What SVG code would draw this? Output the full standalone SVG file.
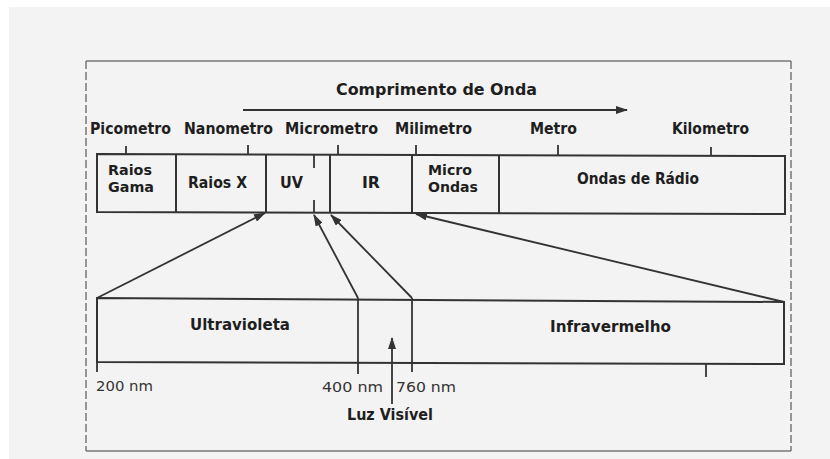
<svg xmlns="http://www.w3.org/2000/svg" width="830" height="459" viewBox="0 0 830 459">
<defs>
<marker id="ah" viewBox="0 0 12 8" refX="11" refY="4" markerWidth="12" markerHeight="8" markerUnits="userSpaceOnUse" orient="auto">
<path d="M0,0 L12,4 L0,8 Z" fill="#333"/>
</marker>
<style>
.b{font-family:"DejaVu Sans","Liberation Sans",sans-serif;font-weight:bold;font-size:15px;fill:#1e1e1e}
.b2{font-family:"DejaVu Sans","Liberation Sans",sans-serif;font-weight:bold;font-size:13.5px;fill:#1e1e1e}
.r{font-family:"DejaVu Sans","Liberation Sans",sans-serif;font-size:14.5px;fill:#333}
.box{fill:none;stroke:#333;stroke-width:2}
.ln{fill:none;stroke:#333;stroke-width:1.8}
.fr{fill:none;stroke:#777;stroke-width:1.5}
</style>
</defs>
<rect x="0" y="0" width="830" height="459" fill="#ffffff"/>
<rect x="9" y="7" width="821" height="452" fill="#f3f3f3"/>
<g id="frame">
<line class="fr" x1="86" y1="61" x2="791" y2="61"/>
<line class="fr" x1="86" y1="61" x2="86" y2="451" stroke-dasharray="8,3"/>
<line class="fr" x1="791" y1="61" x2="791" y2="451" stroke-dasharray="8,3" stroke="#aaa"/>
<line class="fr" x1="86" y1="451" x2="791" y2="451"/>
</g>
<g id="title">
<text class="b" x="336" y="95" font-size="16.5" textLength="201" lengthAdjust="spacingAndGlyphs">Comprimento de Onda</text>
</g>
<g id="scale-labels">
<text class="b" x="90" y="134" textLength="81" lengthAdjust="spacingAndGlyphs">Picometro</text>
<text class="b" x="184" y="134" textLength="89" lengthAdjust="spacingAndGlyphs">Nanometro</text>
<text class="b" x="285" y="134" textLength="93" lengthAdjust="spacingAndGlyphs">Micrometro</text>
<text class="b" x="395" y="134" textLength="77" lengthAdjust="spacingAndGlyphs">Milimetro</text>
<text class="b" x="530" y="134" textLength="47" lengthAdjust="spacingAndGlyphs">Metro</text>
<text class="b" x="672" y="134" textLength="77" lengthAdjust="spacingAndGlyphs">Kilometro</text>
</g>
<g id="spectrum-band">
<path class="box" d="M97,154 L785,156 L785,214 L97,212 Z"/>
</g>
<g id="raios-gama">
<line class="box" x1="176" y1="154" x2="176" y2="212"/>
<text class="b2" x="108" y="175" textLength="44" lengthAdjust="spacingAndGlyphs">Raios</text>
<text class="b2" x="108" y="192" textLength="46" lengthAdjust="spacingAndGlyphs">Gama</text>
</g>
<g id="raios-x">
<line class="box" x1="266" y1="154" x2="266" y2="213"/>
<text class="b" x="188" y="188" textLength="59" lengthAdjust="spacingAndGlyphs">Raios X</text>
</g>
<g id="uv">
<line class="box" x1="330" y1="155" x2="330" y2="213"/>
<line class="ln" x1="314" y1="155" x2="314" y2="168"/>
<line class="ln" x1="314" y1="200" x2="314" y2="212"/>
<text class="b" x="280" y="188" textLength="23" lengthAdjust="spacingAndGlyphs">UV</text>
</g>
<g id="ir">
<line class="box" x1="412" y1="155" x2="412" y2="213"/>
<text class="b" x="362" y="188" textLength="18" lengthAdjust="spacingAndGlyphs">IR</text>
</g>
<g id="micro-ondas">
<line class="box" x1="499" y1="155" x2="499" y2="213"/>
<text class="b2" x="428" y="175" textLength="44" lengthAdjust="spacingAndGlyphs">Micro</text>
<text class="b2" x="428" y="192" textLength="50" lengthAdjust="spacingAndGlyphs">Ondas</text>
</g>
<g id="ondas-radio">
<text class="b" x="577" y="184" textLength="122" lengthAdjust="spacingAndGlyphs">Ondas de Rádio</text>
</g>
<g id="detail-band">
<path class="box" d="M97,298 L784,302 L784,364 L97,362 Z"/>
</g>
<g id="ultravioleta">
<text class="b" x="190" y="330" textLength="100" lengthAdjust="spacingAndGlyphs">Ultravioleta</text>
</g>
<g id="infravermelho">
<text class="b" x="550" y="332" textLength="121" lengthAdjust="spacingAndGlyphs">Infravermelho</text>
</g>
<g id="nm-labels">
<text class="r" x="96" y="391" textLength="57" lengthAdjust="spacingAndGlyphs">200 nm</text>
<text class="r" x="322" y="392" textLength="61" lengthAdjust="spacingAndGlyphs">400 nm</text>
<text class="r" x="396" y="392" textLength="60" lengthAdjust="spacingAndGlyphs">760 nm</text>
</g>
<g id="luz-visivel">
<text class="b" x="347" y="420" textLength="86" lengthAdjust="spacingAndGlyphs">Luz Visível</text>
</g>
<g id="connectors">
<line class="ln" x1="243" y1="110" x2="627" y2="110" marker-end="url(#ah)"/>
<line class="ln" x1="126" y1="146" x2="126" y2="154"/>
<line class="ln" x1="248" y1="145" x2="248" y2="154"/>
<line class="ln" x1="338" y1="145" x2="338" y2="155"/>
<line class="ln" x1="416" y1="145" x2="416" y2="155"/>
<line class="ln" x1="558" y1="145" x2="558" y2="155"/>
<line class="ln" x1="711" y1="147" x2="711" y2="156"/>
<line class="ln" x1="97" y1="298" x2="265" y2="213" marker-end="url(#ah)"/>
<line class="ln" x1="358" y1="298" x2="314" y2="215" marker-end="url(#ah)"/>
<line class="ln" x1="412" y1="298" x2="331" y2="215" marker-end="url(#ah)"/>
<line class="ln" x1="784" y1="302" x2="416" y2="214" marker-end="url(#ah)"/>
<line class="ln" x1="358" y1="298" x2="358" y2="374"/>
<line class="ln" x1="412" y1="298" x2="412" y2="372"/>
<line class="ln" x1="97" y1="362" x2="97" y2="372"/>
<line class="ln" x1="706" y1="364" x2="706" y2="377"/>
<line class="ln" x1="392" y1="404" x2="392" y2="338" marker-end="url(#ah)"/>
</g>
</svg>
